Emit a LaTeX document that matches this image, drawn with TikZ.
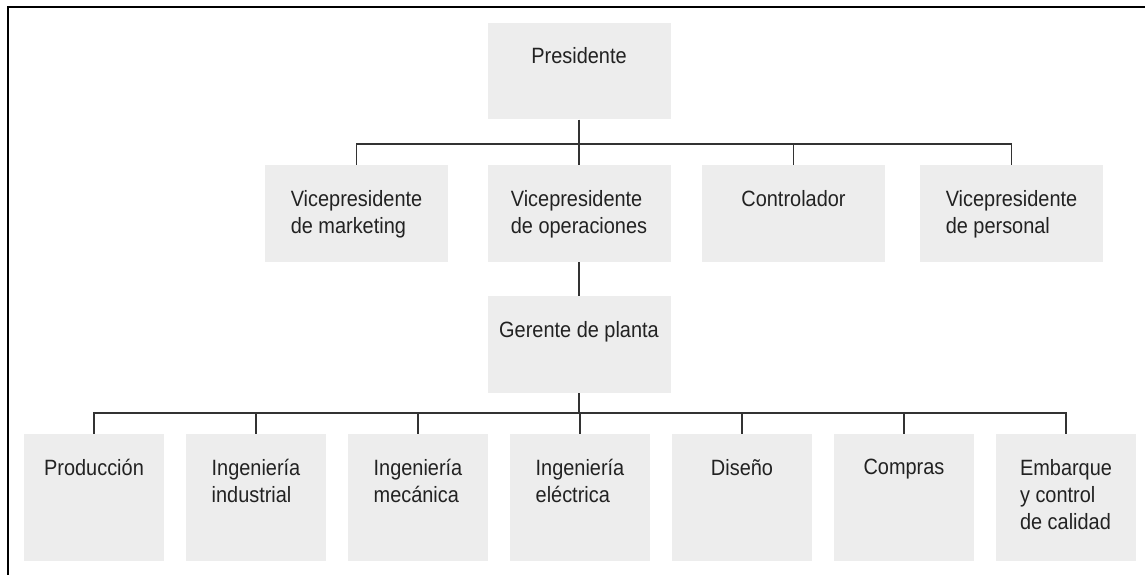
\documentclass[tikz,border=0pt]{standalone}
\usepackage{fontspec}
\setmainfont{Liberation Sans}[FakeStretch=0.9]
\usepackage{tikz}
\definecolor{OrgBox}{HTML}{EDEDED}
\definecolor{OrgText}{HTML}{222222}
\definecolor{OrgLine}{HTML}{333333}

\begin{document}
\begin{tikzpicture}[x=1cm,y=1cm,
  unit/.style={fill=OrgBox,inner sep=0pt,minimum width=3.66cm,minimum height=1.93cm},
  dept/.style={fill=OrgBox,inner sep=0pt,minimum width=2.80cm,minimum height=2.54cm},
  tag/.style={anchor=north,inner sep=0pt,align=left,text=OrgText,font=\fontsize{12.6}{15.6}\selectfont,yshift=-0.50cm},
  link/.style={OrgLine,line width=0.6pt}]
\path[use as bounding box] (0,0) rectangle (22.90,11.50);
\draw[line width=1.6pt] (0.16,0) -- (0.16,11.36) -- (22.90,11.36);
\node[unit,label={[tag]north:Presidente}] (pres) at (11.58,10.08) {};
\node[unit,label={[tag]north:Vicepresidente\\de marketing}] (mkt) at (7.13,7.23) {};
\node[unit,label={[tag]north:Vicepresidente\\de operaciones}] (ope) at (11.58,7.23) {};
\node[unit,label={[tag]north:Controlador}] (ctl) at (15.87,7.23) {};
\node[unit,label={[tag]north:Vicepresidente\\de personal}] (pers) at (20.23,7.23) {};
\node[unit,label={[tag]north:Gerente de planta}] (ger) at (11.58,4.61) {};
\node[dept,label={[tag]north:Producción}] (prod) at (1.88,1.55) {};
\node[dept,label={[tag]north:Ingeniería\\industrial}] (ind) at (5.12,1.55) {};
\node[dept,label={[tag]north:Ingeniería\\mecánica}] (mec) at (8.36,1.55) {};
\node[dept,label={[tag]north:Ingeniería\\eléctrica}] (ele) at (11.60,1.55) {};
\node[dept,label={[tag]north:Diseño}] (dis) at (14.84,1.55) {};
\node[dept,label={[tag]north:Compras}] (comp) at (18.08,1.55) {};
\node[dept,label={[tag]north:Embarque\\y control\\de calidad}] (emb) at (21.32,1.55) {};
\coordinate (vpbus) at (0,8.62);
\coordinate (depbus) at (0,3.24);
\draw[link] (pres.south) -- (pres.south |- vpbus);
\draw[link] (mkt.north) |- (vpbus -| pers.north) -- (pers.north);
\draw[link] (ope.north) -- (ope.north |- vpbus);
\draw[link] (ctl.north) -- (ctl.north |- vpbus);
\draw[link] (ope.south) -- (ger.north);
\draw[link] (ger.south) -- (ger.south |- depbus);
\draw[link] (prod.north) |- (depbus -| emb.north) -- (emb.north);
\draw[link] (ind.north) -- (ind.north |- depbus);
\draw[link] (mec.north) -- (mec.north |- depbus);
\draw[link] (ele.north) -- (ele.north |- depbus);
\draw[link] (dis.north) -- (dis.north |- depbus);
\draw[link] (comp.north) -- (comp.north |- depbus);
\end{tikzpicture}
\end{document}
